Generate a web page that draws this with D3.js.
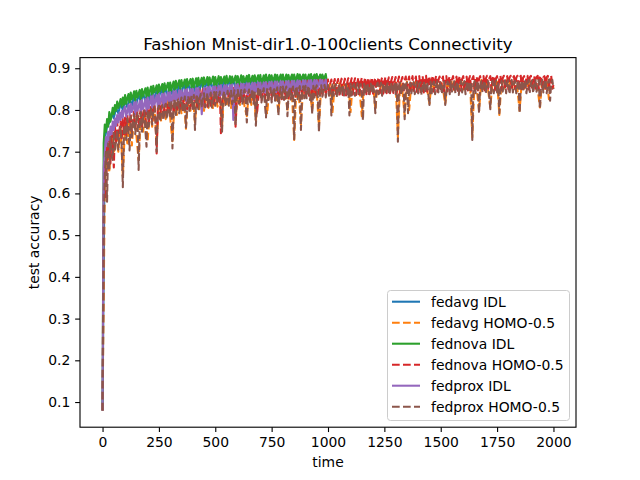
<!DOCTYPE html>
<html lang="en">
<head>
<meta charset="UTF-8" />
<title>Fashion Mnist connectivity</title>
<script src="https://d3js.org/d3.v7.min.js"></script>
<style>
  body { margin: 0; background: #fff; }
  svg text { font-family: "DejaVu Sans", sans-serif; fill: #000; }
</style>
</head>
<body>
<script>
// sample times: the visible runs are read every 5 rounds, the hidden ones every 10
var timeHomo = d3.range(0, 2001, 5);
var timeIdl = d3.range(0, 1001, 5);
var timeHomo10 = d3.range(0, 2001, 10);
var timeIdl10 = d3.range(0, 1001, 10);

// fedavg IDL (mostly hidden under fednova / fedprox)
var fedavgIdl = [
  .080,.730,.760,.770,.792,.780,.805,.792,.815,.800,
  .822,.806,.828,.810,.833,.815,.837,.818,.840,.820,
  .843,.823,.846,.826,.848,.829,.851,.831,.853,.833,
  .855,.836,.858,.838,.860,.840,.862,.842,.864,.843,
  .865,.845,.866,.846,.867,.847,.868,.848,.869,.849,
  .870,.850,.870,.851,.871,.851,.872,.852,.872,.852,
  .873,.853,.873,.853,.874,.854,.874,.854,.875,.855,
  .875,.855,.875,.856,.876,.856,.876,.856,.877,.857,
  .877,.857,.877,.858,.878,.858,.878,.858,.878,.859,
  .879,.859,.879,.859,.879,.860,.879,.860,.880,.860,
  .862];

// fedavg HOMO-0.5 (mostly hidden under the other HOMO runs)
var fedavgHomo = [
  .080,.620,.705,.650,.738,.695,.748,.700,.763,.640,
  .768,.720,.783,.715,.788,.740,.680,.792,.748,.798,
  .725,.803,.760,.808,.720,.812,.772,.818,.778,.822,
  .782,.725,.825,.788,.830,.792,.832,.755,.835,.798,
  .837,.770,.836,.802,.840,.798,.842,.805,.844,.802,
  .842,.808,.845,.760,.847,.810,.848,.805,.847,.775,
  .850,.812,.849,.808,.785,.851,.812,.852,.775,.853,
  .838,.854,.836,.790,.854,.840,.856,.838,.795,.857,
  .840,.858,.795,.857,.840,.728,.858,.842,.765,.859,
  .842,.860,.842,.800,.860,.844,.760,.861,.844,.862,
  .846,.862,.795,.863,.846,.864,.845,.862,.847,.864,
  .795,.865,.847,.864,.846,.785,.865,.848,.866,.847,
  .865,.800,.866,.848,.867,.847,.866,.849,.868,.848,
  .866,.735,.867,.848,.785,.868,.800,.868,.849,.869,
  .848,.868,.850,.870,.849,.815,.869,.850,.870,.849,
  .871,.850,.815,.870,.849,.871,.848,.870,.850,.872,
  .849,.871,.850,.870,.735,.871,.850,.798,.872,.850,
  .871,.849,.806,.872,.850,.873,.788,.872,.851,.873,
  .850,.874,.851,.872,.850,.798,.873,.851,.874,.850,
  .873,.851,.874,.850,.806,.874,.851,.875,.826,.874,
  .852];

// fednova IDL, every 5 rounds (20 values per 100 rounds)
var fednovaIdl = [
  .080,.720,.765,.748,.778,.760,.795,.772,.786,.805,.790,.812,.798,.820,.805,.815,.826,.808,.830,.812,
  .836,.815,.828,.838,.818,.842,.825,.833,.845,.822,.846,.830,.840,.848,.826,.850,.833,.843,.852,.830,
  .854,.834,.846,.856,.836,.858,.842,.850,.859,.838,.861,.845,.853,.862,.840,.864,.848,.856,.865,.843,
  .866,.846,.858,.868,.848,.870,.853,.862,.871,.850,.872,.856,.864,.873,.851,.874,.858,.866,.874,.853,
  .875,.854,.866,.876,.856,.877,.860,.868,.877,.855,.878,.862,.869,.879,.857,.878,.863,.870,.880,.858,
  .879,.859,.870,.881,.860,.879,.864,.872,.880,.859,.882,.865,.871,.881,.860,.880,.866,.873,.882,.861,
  .881,.861,.872,.883,.862,.881,.867,.874,.882,.861,.884,.866,.873,.882,.862,.883,.868,.875,.883,.862,
  .884,.863,.873,.883,.864,.885,.868,.876,.884,.863,.883,.869,.875,.885,.864,.884,.868,.877,.885,.864,
  .885,.864,.876,.885,.865,.884,.869,.877,.885,.865,.885,.870,.876,.886,.865,.885,.869,.878,.885,.866,
  .885,.865,.877,.885,.866,.886,.870,.878,.885,.866,.886,.871,.877,.885,.866,.885,.870,.878,.886,.866,
  .872];

// fednova HOMO-0.5, every 5 rounds
var fednovaHomo = [
  .080,.600,.660,.585,.715,.690,.740,.672,.748,.720,.662,.760,.722,.770,.735,.752,.772,.728,.778,.742,
  .782,.740,.788,.752,.768,.792,.748,.780,.796,.755,.785,.798,.762,.788,.802,.760,.792,.805,.768,.795,
  .808,.770,.796,.812,.772,.800,.814,.778,.696,.804,.818,.780,.808,.822,.784,.810,.825,.786,.812,.828,
  .790,.815,.832,.792,.818,.834,.796,.820,.837,.798,.824,.840,.800,.826,.842,.802,.828,.844,.804,.830,
  .846,.805,.832,.848,.806,.834,.849,.808,.836,.850,.810,.838,.851,.808,.838,.852,.810,.840,.853,.812,
  .840,.853,.814,.842,.854,.744,.815,.843,.855,.816,.844,.856,.816,.845,.856,.817,.846,.857,.760,.818,
  .847,.858,.819,.848,.858,.820,.849,.859,.820,.850,.860,.821,.850,.860,.822,.851,.861,.790,.822,.852,
  .862,.823,.852,.862,.822,.853,.863,.824,.854,.863,.825,.854,.864,.824,.855,.865,.826,.856,.865,.826,
  .856,.866,.827,.857,.866,.828,.857,.867,.828,.858,.867,.829,.858,.868,.830,.859,.868,.829,.859,.869,
  .830,.860,.870,.830,.860,.870,.832,.861,.871,.831,.861,.871,.833,.862,.872,.832,.862,.872,.833,.862,
  .873,.834,.863,.873,.834,.863,.874,.835,.864,.874,.834,.864,.875,.836,.864,.875,.835,.865,.876,.836,
  .865,.876,.837,.865,.876,.836,.866,.877,.838,.866,.877,.837,.866,.878,.838,.867,.877,.838,.867,.878,
  .839,.867,.877,.838,.868,.878,.840,.868,.878,.839,.868,.879,.840,.869,.878,.840,.869,.879,.841,.869,
  .879,.840,.869,.880,.841,.870,.879,.842,.870,.880,.841,.870,.880,.842,.870,.881,.842,.871,.880,.843,
  .871,.881,.843,.871,.881,.842,.871,.882,.844,.872,.881,.843,.872,.882,.844,.872,.882,.844,.872,.880,
  .845,.873,.880,.844,.873,.881,.845,.873,.880,.846,.873,.881,.845,.874,.880,.846,.874,.881,.846,.874,
  .881,.846,.874,.880,.847,.874,.881,.846,.875,.881,.847,.875,.880,.847,.875,.881,.848,.875,.881,.847,
  .875,.882,.848,.875,.881,.848,.876,.882,.847,.876,.881,.849,.876,.882,.848,.876,.882,.849,.876,.881,
  .849,.877,.882,.848,.877,.881,.850,.877,.882,.849,.877,.882,.850,.877,.881,.850,.878,.882,.849,.878,
  .882,.850,.878,.881,.851,.878,.882,.850,.878,.882,.851,.878,.881,.851,.878,.882,.850,.878,.882,.851,
  .860];

// fedprox IDL, every 5 rounds
var fedproxIdl = [
  .080,.660,.700,.735,.715,.748,.728,.760,.742,.772,.752,.780,.762,.788,.770,.794,.776,.798,.782,.802,
  .808,.784,.796,.812,.788,.815,.795,.805,.818,.790,.820,.798,.808,.822,.794,.824,.802,.812,.826,.797,
  .830,.804,.818,.833,.806,.835,.812,.822,.836,.808,.838,.814,.826,.839,.810,.840,.816,.828,.842,.813,
  .843,.817,.830,.845,.820,.846,.824,.834,.847,.819,.848,.826,.836,.849,.822,.850,.828,.837,.850,.823,
  .851,.825,.838,.852,.827,.853,.830,.840,.790,.826,.854,.832,.842,.855,.829,.856,.834,.843,.856,.830,
  .857,.831,.845,.858,.833,.859,.836,.847,.859,.832,.860,.838,.848,.860,.834,.861,.776,.845,.861,.835,
  .862,.836,.849,.863,.838,.863,.840,.851,.864,.837,.864,.841,.852,.865,.839,.865,.843,.853,.866,.840,
  .866,.841,.854,.866,.842,.867,.845,.855,.867,.842,.868,.846,.856,.868,.843,.868,.847,.857,.869,.844,
  .869,.845,.857,.869,.846,.870,.848,.858,.870,.845,.870,.849,.859,.871,.846,.870,.850,.860,.871,.847,
  .871,.848,.860,.871,.849,.872,.851,.861,.872,.848,.872,.852,.862,.873,.849,.872,.853,.862,.873,.850,
  .860];

// fedprox HOMO-0.5, every 5 rounds
var fedproxHomo = [
  .080,.520,.640,.700,.580,.720,.660,.735,.690,.680,.745,.700,.728,.752,.705,.740,.760,.712,.615,.750,
  .765,.728,.780,.745,.703,.785,.735,.770,.790,.742,.775,.792,.656,.765,.795,.748,.782,.798,.752,.712,
  .800,.760,.788,.805,.765,.795,.808,.770,.700,.798,.810,.772,.792,.812,.775,.800,.815,.778,.796,.818,
  .785,.822,.708,.805,.826,.788,.812,.828,.792,.815,.830,.795,.818,.832,.758,.808,.833,.798,.820,.834,
  .800,.836,.752,.822,.837,.802,.826,.838,.805,.828,.840,.806,.818,.841,.808,.830,.842,.806,.826,.843,
  .810,.843,.820,.832,.844,.808,.748,.835,.845,.812,.828,.846,.810,.836,.846,.814,.830,.847,.762,.838,
  .848,.815,.832,.848,.812,.840,.849,.816,.770,.838,.849,.818,.834,.850,.815,.842,.762,.820,.851,.836,
  .852,.818,.840,.852,.814,.782,.852,.820,.844,.853,.818,.838,.854,.822,.845,.854,.786,.836,.855,.822,
  .856,.824,.846,.856,.785,.840,.855,.825,.848,.856,.730,.844,.857,.826,.850,.857,.752,.842,.857,.828,
  .858,.828,.850,.858,.824,.842,.790,.858,.830,.852,.859,.828,.747,.846,.859,.832,.852,.860,.830,.848,
  .860,.834,.852,.787,.861,.834,.854,.862,.830,.848,.862,.836,.856,.860,.832,.850,.862,.838,.855,.787,
  .863,.835,.856,.862,.834,.850,.864,.838,.857,.862,.832,.775,.863,.840,.858,.864,.836,.852,.863,.840,
  .864,.836,.792,.858,.865,.838,.854,.865,.834,.860,.864,.840,.856,.866,.836,.858,.865,.840,.854,.866,
  .838,.864,.724,.858,.865,.836,.856,.866,.778,.860,.866,.792,.852,.866,.840,.860,.867,.838,.856,.867,
  .840,.862,.866,.836,.858,.868,.842,.860,.867,.838,.812,.868,.840,.862,.868,.838,.858,.869,.842,.860,
  .869,.838,.860,.868,.812,.842,.868,.862,.838,.869,.844,.858,.869,.840,.862,.868,.836,.860,.870,.842,
  .862,.869,.838,.860,.869,.842,.862,.868,.728,.856,.869,.840,.862,.870,.792,.858,.869,.842,.864,.870,
  .840,.862,.869,.836,.802,.864,.870,.840,.860,.871,.842,.864,.792,.858,.870,.844,.862,.871,.840,.864,
  .871,.838,.862,.872,.842,.864,.870,.840,.862,.872,.792,.858,.871,.844,.864,.872,.840,.862,.872,.843,
  .864,.871,.840,.862,.872,.844,.864,.872,.802,.858,.872,.842,.864,.873,.840,.862,.873,.822,.866,.872,
  .850];

var xTicks = [0, 250, 500, 750, 1000, 1250, 1500, 1750, 2000];
var yTicks = [0.1, 0.2, 0.3, 0.4, 0.5, 0.6, 0.7, 0.8, 0.9];

var series = [
  { name: "fedavg IDL", t: timeIdl10, v: fedavgIdl, color: "#1f77b4", dash: false },
  { name: "fedavg HOMO-0.5", t: timeHomo10, v: fedavgHomo, color: "#ff7f0e", dash: true },
  { name: "fednova IDL", t: timeIdl, v: fednovaIdl, color: "#2ca02c", dash: false },
  { name: "fednova HOMO-0.5", t: timeHomo, v: fednovaHomo, color: "#d62728", dash: true },
  { name: "fedprox IDL", t: timeIdl, v: fedproxIdl, color: "#9467bd", dash: false },
  { name: "fedprox HOMO-0.5", t: timeHomo, v: fedproxHomo, color: "#8c564b", dash: true }
];

var w = 640, h = 480;
var axLeft = 80, axRight = 576, axTop = 57.6, axBottom = 427.2;
var lw = 2.08;
var fs = 13.9;

var xScale = d3.scaleLinear().domain([-100, 2100]).range([axLeft, axRight]);
var yScale = d3.scaleLinear().domain([0.0397, 0.9255]).range([axBottom, axTop]);

var svg = d3.select("body").append("svg")
  .attr("width", w)
  .attr("height", h);

svg.append("rect").attr("width", w).attr("height", h).attr("fill", "#fff");

var plot = svg.append("g");

series.forEach(function (s) {
  var pts = s.t.map(function (t, i) { return [t, s.v[i]]; });
  var line = d3.line()
    .x(function (d) { return xScale(d[0]); })
    .y(function (d) { return yScale(d[1]); });
  plot.append("path")
    .attr("d", line(pts))
    .attr("fill", "none")
    .attr("stroke", s.color)
    .attr("stroke-width", lw)
    .attr("stroke-linejoin", "round")
    .attr("stroke-dasharray", s.dash ? "7.7,3.3" : null);
});

// axes
var xAxis = d3.axisBottom(xScale).tickValues(xTicks).tickSize(4.86).tickPadding(4.86)
  .tickFormat(d3.format("d"));
var yAxis = d3.axisLeft(yScale).tickValues(yTicks).tickSize(4.86).tickPadding(4.86)
  .tickFormat(d3.format(".1f"));

var gx = svg.append("g").attr("transform", "translate(0," + axBottom + ")").call(xAxis);
var gy = svg.append("g").attr("transform", "translate(" + axLeft + ",0)").call(yAxis);

[gx, gy].forEach(function (g) {
  g.select(".domain").remove();
  g.selectAll(".tick line").attr("stroke", "#000").attr("stroke-width", 1.11);
  g.selectAll(".tick text")
    .attr("font-size", fs)
    .attr("font-family", "DejaVu Sans")
    .attr("fill", "#000");
});

svg.append("rect")
  .attr("x", axLeft).attr("y", axTop)
  .attr("width", axRight - axLeft).attr("height", axBottom - axTop)
  .attr("fill", "none")
  .attr("stroke", "#000")
  .attr("stroke-width", 1.11);

// title and labels
svg.append("text")
  .attr("x", (axLeft + axRight) / 2).attr("y", 49.5)
  .attr("text-anchor", "middle")
  .attr("font-size", 16.67)
  .text("Fashion Mnist-dir1.0-100clients Connectivity");

svg.append("text")
  .attr("x", (axLeft + axRight) / 2).attr("y", 467)
  .attr("text-anchor", "middle")
  .attr("font-size", fs)
  .text("time");

svg.append("text")
  .attr("transform", "translate(39," + (axTop + axBottom) / 2 + ") rotate(-90)")
  .attr("text-anchor", "middle")
  .attr("font-size", fs)
  .text("test accuracy");

// legend
var lg = svg.append("g");
lg.append("rect")
  .attr("x", 387.5).attr("y", 290.5)
  .attr("width", 182).attr("height", 130)
  .attr("rx", 3)
  .attr("fill", "#fff").attr("fill-opacity", 0.8)
  .attr("stroke", "#cccccc").attr("stroke-width", 1);

series.forEach(function (s, i) {
  var y = 301.7 + i * 21;
  lg.append("line")
    .attr("x1", 392).attr("x2", 420)
    .attr("y1", y).attr("y2", y)
    .attr("stroke", s.color)
    .attr("stroke-width", lw)
    .attr("stroke-dasharray", s.dash ? "7.7,3.3" : null);
  lg.append("text")
    .attr("x", 431).attr("y", y + 5)
    .attr("font-size", fs)
    .text(s.name);
});
</script>
</body>
</html>
